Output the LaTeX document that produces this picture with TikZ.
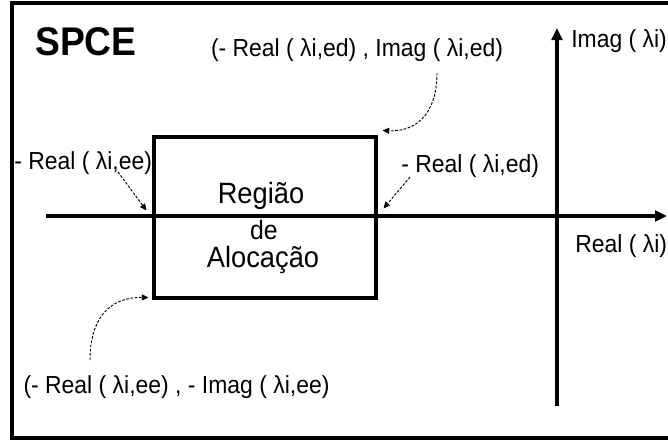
\documentclass[tikz,border=0pt]{standalone}
\usepackage{fontspec}
\setmainfont[FakeStretch=0.93]{Liberation Sans}
\usetikzlibrary{arrows.meta,positioning,calc}

\begin{document}
\begin{tikzpicture}[x=0.75pt,y=-0.75pt,
  lbl/.style={font=\fontsize{18.5}{22}\selectfont,inner sep=0pt,anchor=base},
  inner/.style={font=\fontsize{22}{26}\selectfont,inner sep=0pt,anchor=base},
  box/.style={draw,line width=2.3pt,minimum width=166.5pt,minimum height=120.75pt,inner sep=0pt},
  axis/.style={line width=2.3pt,-{Triangle[length=9pt,width=8pt]}},
  pt/.style={dash pattern=on 2pt off 1.2pt,line width=0.7pt,-{Triangle[length=5pt,width=4.5pt]}}]
\useasboundingbox (0,0) rectangle (668,443);

% frame (open on the right)
\draw[line width=2.6pt] (668,3) -- (12,3) -- (12,438) -- (668,438);

% axes
\coordinate (xl) at (46,216);
\coordinate (xr) at (667,216);
\coordinate (yb) at (557,406);
\coordinate (yt) at (557,28);
\draw[axis] (xl) -- (xr);
\draw[axis] (yb) -- (yt);

% allocation region
\node[box] (region) at (265,217.5) {};
\node[inner] (reg1) at (261,203) {Região};
\node[inner,font=\fontsize{20}{24}\selectfont] (reg2) at (264,239) {de};
\node[inner] (reg3) at (263,267) {Alocação};

% labels
\node[font=\fontsize{30}{34}\selectfont\bfseries,inner sep=0pt,anchor=base] (title) at (86,55) {SPCE};
\node[lbl] (ned) at (357,56) {(- Real ( λi,ed) , Imag ( λi,ed)};
\node[lbl,anchor=base west] (imag) at (571,47) {Imag ( λi)};
\node[lbl,anchor=base west] (real) at (575,252) {Real ( λi)};
\node[lbl,anchor=base west] (ree) at (14,169) {- Real ( λi,ee)};
\node[lbl,anchor=base west] (red) at (401,172) {- Real ( λi,ed)};
\node[lbl] (see) at (176.5,393) {(- Real ( λi,ee) , - Imag ( λi,ee)};

% pointers
\coordinate (p1) at (437,73);
\coordinate (p2) at (118,172);
\coordinate (p3) at (410,177);
\coordinate (p4) at (90,360);
\draw[pt] (p1) .. controls (437,115) and (415,132) .. ($(region.north east)+(5,-5)$);
\draw[pt] (p2) -- ($(region.west)+(-6,-7)$);
\draw[pt] (p3) -- ($(region.east)+(6,-9)$);
\draw[pt] (p4) .. controls (90,318) and (110,297) .. ($(region.south west)+(-4,-2)$);
\end{tikzpicture}
\end{document}
